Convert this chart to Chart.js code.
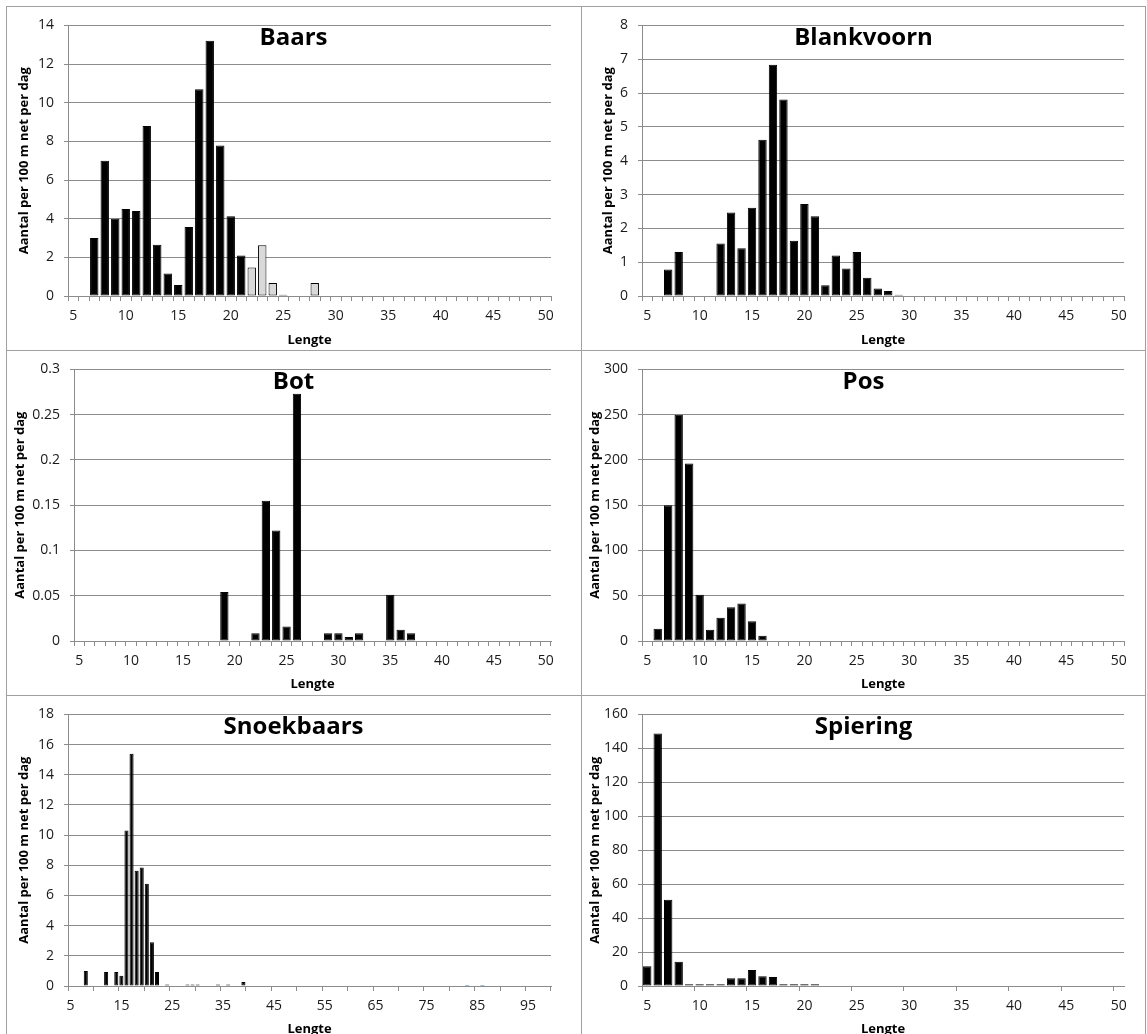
<!DOCTYPE html>
<html>
<head>
<meta charset="utf-8">
<script src="https://cdn.jsdelivr.net/npm/chart.js@4.4.1/dist/chart.umd.min.js"></script>
<style>
  html, body { margin: 0; padding: 0; background: #fff; }
  body { width: 1147px; height: 1034px; position: relative; overflow: hidden; }
  .paneel { position: absolute; }
  .lijn { position: absolute; background: #a0a0a0; z-index: 5; }
</style>
</head>
<body>

<div class="lijn" style="left:6px;top:6px;width:1140px;height:1px"></div>
<div class="lijn" style="left:6px;top:350px;width:1140px;height:1px"></div>
<div class="lijn" style="left:6px;top:695px;width:1140px;height:1px"></div>
<div class="lijn" style="left:6px;top:6px;width:1px;height:1030px"></div>
<div class="lijn" style="left:581px;top:6px;width:1px;height:1030px"></div>
<div class="lijn" style="left:1145px;top:6px;width:1px;height:1030px"></div>

<div class="paneel" style="left:7px;top:7px;width:573px;height:343px"><canvas id="baars"></canvas></div>
<div class="paneel" style="left:582px;top:7px;width:563px;height:343px"><canvas id="blankvoorn"></canvas></div>
<div class="paneel" style="left:7px;top:351px;width:573px;height:343px"><canvas id="bot"></canvas></div>
<div class="paneel" style="left:582px;top:351px;width:563px;height:343px"><canvas id="pos"></canvas></div>
<div class="paneel" style="left:7px;top:696px;width:573px;height:343px"><canvas id="snoekbaars"></canvas></div>
<div class="paneel" style="left:582px;top:696px;width:563px;height:343px"><canvas id="spiering"></canvas></div>

<script>
// lengteklassen (cm)
const lengtes = ['5','6','7','8','9','10','11','12','13','14','15','16','17','18','19','20',
  '21','22','23','24','25','26','27','28','29','30','31','32','33','34','35','36','37','38',
  '39','40','41','42','43','44','45','46','47','48','49','50'];
const lengtesLang = ['5','6','7','8','9','10','11','12','13','14','15','16','17','18','19','20',
  '21','22','23','24','25','26','27','28','29','30','31','32','33','34','35','36','37','38',
  '39','40','41','42','43','44','45','46','47','48','49','50','51','52','53','54','55','56',
  '57','58','59','60','61','62','63','64','65','66','67','68','69','70','71','72','73','74',
  '75','76','77','78','79','80','81','82','83','84','85','86','87','88','89','90','91','92',
  '93','94','95','96','97','98','99'];

// zichtbare labels op de x-as
const asLabels = ['5','10','15','20','25','30','35','40','45','50'];
const asLabelsLang = ['5','15','25','35','45','55','65','75','85','95'];

// aantal per 100 m net per dag
const baarsZwart = [0,0,3.0,7.0,4.0,4.5,4.4,8.8,2.65,1.17, 0.57,3.57,10.7,13.2,7.78,4.12,2.1,0,0,0,
  0,0,0,0,0,0,0,0,0,0, 0,0,0,0,0,0,0,0,0,0, 0,0,0,0,0,0];
const baarsGrijs = [0,0,0,0,0,0,0,0,0,0, 0,0,0,0,0,0,0,1.48,2.63,0.67,
  0.06,0,0,0.67,0,0,0,0,0,0, 0,0,0,0,0,0,0,0,0,0, 0,0,0,0,0,0];
const blankvoorn = [0,0,0.78,1.3,0,0,0,1.55,2.47,1.41, 2.61,4.62,6.84,5.81,1.63,2.72,2.36,0.32,1.2,0.81,
  1.3,0.54,0.22,0.15,0.04,0,0,0,0,0, 0,0,0,0,0,0,0,0,0,0, 0,0,0,0,0,0];
const bot = [0,0,0,0,0,0,0,0,0,0, 0,0,0,0,0.054,0,0,0.0085,0.155,0.122,
  0.016,0.273,0,0,0.0085,0.0085,0.0045,0.0085,0,0, 0.051,0.0125,0.0085,0,0,0,0,0,0,0, 0,0,0,0,0,0];
const pos = [0,13.6,150,250,196,51,12.5,25.7,37.4,41.5, 21.7,5.9,0,0,0,0,0,0,0,0,
  0,0,0,0,0,0,0,0,0,0, 0,0,0,0,0,0,0,0,0,0, 0,0,0,0,0,0];
const snoekbaars = [0,0,0,1.0,0,0,0,0.93,0,0.92, 0.68,10.3,15.4,7.64,7.86,6.78,2.9,0.92,0,0.1,
  0,0,0,0.1,0.1,0.1,0,0,0,0.1, 0,0.1,0,0,0.26,0,0,0,0,0,
  0,0,0,0,0,0,0,0,0,0, 0,0,0,0,0,0,0,0,0,0, 0,0,0,0,0,0,0,0,0,0,
  0,0,0,0,0,0,0,0,0,0, 0,0,0,0,0,0,0,0,0,0, 0,0,0,0,0];
const snoekbaarsBlauw = [0,0,0,0,0,0,0,0,0,0, 0,0,0,0,0,0,0,0,0,0,
  0,0,0,0,0,0,0,0,0,0, 0,0,0,0,0,0,0,0,0,0,
  0,0,0,0,0,0,0,0,0,0, 0,0,0,0,0,0,0,0,0,0, 0,0,0,0,0,0,0,0,0,0,
  0,0,0,0,0,0,0,0,0.07,0, 0,0.07,0,0,0,0,0,0,0,0, 0,0,0,0,0];
const spiering = [11.6,148.8,50.8,14.3,1,1,1,1,4.5,4.5, 9.4,5.7,5.3,1,1,1,1,0,0,0,
  0,0,0,0,0,0,0,0,0,0, 0,0,0,0,0,0,0,0,0,0, 0,0,0,0,0,0];

const grijs = '#8c8c8c';
Chart.defaults.font.family = '"Open Sans", sans-serif';
Chart.defaults.color = '#1a1a1a';

// titel over het plotvlak heen, zoals in Excel
const paneelTitel = {
  id: 'paneelTitel',
  afterDraw(chart, args, opts) {
    const ctx = chart.ctx;
    ctx.save();
    ctx.font = 'bold 24px "Open Sans"';
    ctx.fillStyle = '#000';
    ctx.textAlign = 'center';
    ctx.textBaseline = 'alphabetic';
    ctx.fillText(opts.text, chart.width / 2, 38);
    ctx.restore();
  }
};

function maakGrafiek(id, cfg) {
  const stapel = cfg.datasets.length > 1;
  new Chart(document.getElementById(id), {
    type: 'bar',
    data: {
      labels: cfg.labels,
      datasets: cfg.datasets.map(d => ({
        data: d.data,
        backgroundColor: d.kleur,
        borderColor: d.rand,
        borderWidth: d.rand ? 1 : 0,
        borderSkipped: false,
        barPercentage: 0.8,
        categoryPercentage: 1.0
      }))
    },
    plugins: [paneelTitel],
    options: {
      responsive: true,
      maintainAspectRatio: false,
      animation: false,
      layout: { padding: { top: 17, right: cfg.rechts, left: 0, bottom: 0 } },
      plugins: {
        legend: { display: false },
        tooltip: { enabled: false },
        paneelTitel: { text: cfg.titel }
      },
      scales: {
        x: {
          stacked: stapel,
          offset: true,
          afterFit: s => { s.height = cfg.xHoogte; },
          grid: {
            offset: true,
            drawOnChartArea: false,
            drawTicks: true,
            tickLength: 5,
            color: grijs,
            tickColor: c => {
              if (c.index === undefined) return cfg.eindTick ? grijs : 'transparent';
              return c.index % cfg.tickElke === 0 ? grijs : 'transparent';
            }
          },
          border: { color: grijs },
          ticks: {
            autoSkip: false,
            maxRotation: 0,
            padding: 7,
            font: { size: 14 },
            callback: function (v) {
              const l = this.getLabelForValue(v);
              return cfg.toon.includes(l) ? l : '';
            }
          },
          title: {
            display: true,
            text: 'Lengte',
            color: '#000',
            font: { size: 13, weight: 'bold' },
            padding: { top: 0, bottom: 2 }
          }
        },
        y: {
          stacked: stapel,
          min: 0,
          max: cfg.max,
          afterFit: s => { s.width = cfg.yBreedte; },
          grid: { color: grijs, tickLength: 4 },
          border: { color: grijs },
          ticks: {
            stepSize: cfg.stap,
            padding: 10,
            font: { size: 14 },
            callback: v => String(+v.toFixed(2))
          },
          title: {
            display: true,
            text: 'Aantal per 100 m net per dag',
            color: '#000',
            font: { size: 13, weight: 'bold' },
            padding: { top: cfg.titelAfstand, bottom: 0 }
          }
        }
      }
    }
  });
}

maakGrafiek('baars', {
  titel: 'Baars', labels: lengtes, toon: asLabels, max: 14, stap: 2,
  datasets: [
    { data: baarsZwart, kleur: '#000', rand: '#000' },
    { data: baarsGrijs, kleur: '#d9d9d9', rand: '#000' }
  ],
  yBreedte: 61, rechts: 29, xHoogte: 54, titelAfstand: 9, tickElke: 1, eindTick: true
});
maakGrafiek('blankvoorn', {
  titel: 'Blankvoorn', labels: lengtes, toon: asLabels, max: 8, stap: 1,
  datasets: [{ data: blankvoorn, kleur: '#000', rand: '#000' }],
  yBreedte: 60, rechts: 21, xHoogte: 54, titelAfstand: 18, tickElke: 1, eindTick: true
});
maakGrafiek('bot', {
  titel: 'Bot', labels: lengtes, toon: asLabels, max: 0.3, stap: 0.05,
  datasets: [{ data: bot, kleur: '#000', rand: '#000' }],
  yBreedte: 67, rechts: 29, xHoogte: 53, titelAfstand: 5, tickElke: 1, eindTick: true
});
maakGrafiek('pos', {
  titel: 'Pos', labels: lengtes, toon: asLabels, max: 300, stap: 50,
  datasets: [{ data: pos, kleur: '#000', rand: '#000' }],
  yBreedte: 60, rechts: 21, xHoogte: 53, titelAfstand: 5, tickElke: 1, eindTick: true
});
maakGrafiek('snoekbaars', {
  titel: 'Snoekbaars', labels: lengtesLang, toon: asLabelsLang, max: 18, stap: 2,
  datasets: [
    { data: snoekbaars, kleur: '#000', rand: '#000' },
    { data: snoekbaarsBlauw, kleur: '#4f81bd', rand: null }
  ],
  yBreedte: 61, rechts: 29, xHoogte: 53, titelAfstand: 9, tickElke: 5, eindTick: true
});
maakGrafiek('spiering', {
  titel: 'Spiering', labels: lengtes, toon: asLabels, max: 160, stap: 20,
  datasets: [{ data: spiering, kleur: '#000', rand: '#000' }],
  yBreedte: 60, rechts: 21, xHoogte: 53, titelAfstand: 5, tickElke: 5, eindTick: false
});
</script>
</body>
</html>
